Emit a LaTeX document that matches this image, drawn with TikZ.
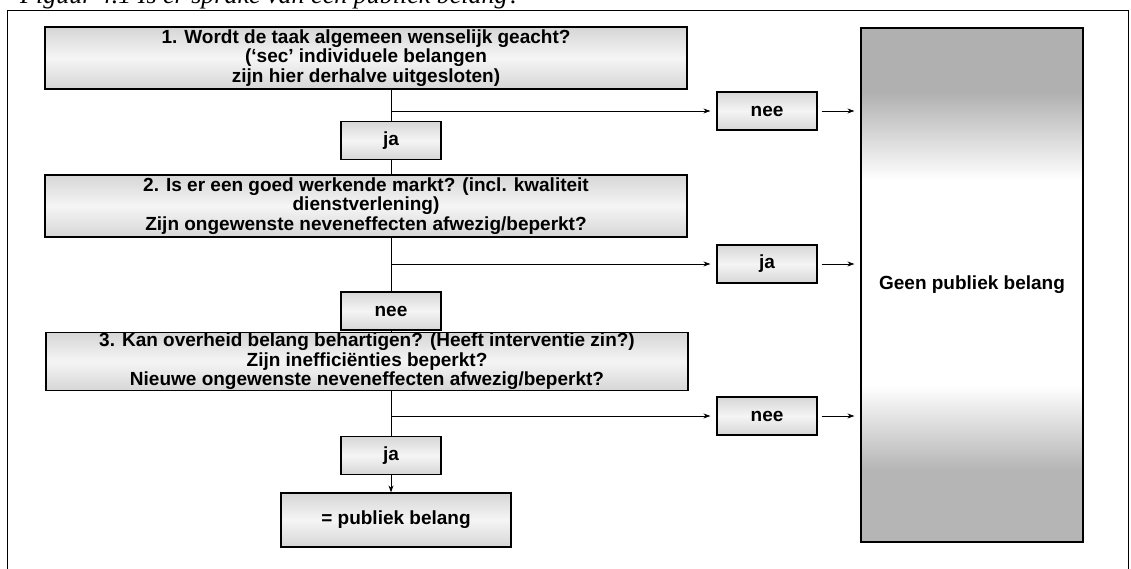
\documentclass[tikz,border=0pt]{standalone}
\usepackage{fontspec}
\setsansfont{Liberation Sans}
\newfontfamily\titelfont{Liberation Serif}
\usetikzlibrary{arrows.meta,positioning,calc}
\tikzset{
  vraag/.style={draw, line width=1.2pt, top color=gray!32, bottom color=gray!32,
    middle color=gray!8, minimum width=642pt, minimum height=62pt, inner sep=0pt,
    align=center, font=\sffamily\bfseries\fontsize{19}{19.5}\selectfont},
  antw/.style={vraag, minimum width=100pt, minimum height=38pt},
  pijl/.style={-{Stealth[length=7pt,width=5pt]}, line width=0.8pt},
  lijn/.style={line width=0.8pt},
}
\begin{document}
\begin{tikzpicture}[x=1pt,y=-1pt]
    \useasboundingbox (0,0) rectangle (1131,569);
    % titel (bovenkant valt weg)
    \node[anchor=base west, inner sep=0pt, font=\titelfont\itshape\fontsize{26}{26}\selectfont]
        (titel) at (20,4) {Figuur 4.1 Is er sprake van een publiek belang?};
    % kader
    \draw[line width=0.8pt] (7,569) -- (7,10) -- (1128,10) -- (1128,569);
    % rechter blok: donker boven en onder, wit in het midden
    \fill[gray!62] (861,28) rectangle (1083,92);
    \shade[top color=gray!62, bottom color=white] (861,92) rectangle (1083,180);
    \shade[top color=white, bottom color=gray!58] (861,385) rectangle (1083,470);
    \fill[gray!58] (861,470) rectangle (1083,542);
    \node[draw, line width=1.2pt, minimum width=222pt, minimum height=514pt, inner sep=0pt,
        font=\sffamily\bfseries\fontsize{19}{19.5}\selectfont] (geen) at (972,285) {Geen publiek belang};
    % vragen
    \node[vraag] (v1) at (366,58) {1. Wordt de taak algemeen wenselijk geacht?\\(‘sec’ individuele belangen\\zijn hier derhalve uitgesloten)};
    \node[vraag] (v2) at (366,206) {2. Is er een goed werkende markt? (incl. kwaliteit\\dienstverlening)\\Zijn ongewenste neveneffecten afwezig/beperkt?};
    \node[vraag, minimum height=58pt] (v3) at (367,361.5) {3. Kan overheid belang behartigen? (Heeft interventie zin?)\\Zijn inefficiënties beperkt?\\Nieuwe ongewenste neveneffecten afwezig/beperkt?};
    % antwoorden
    \node[antw] (ja1) at (391,140.5) {ja};
    \node[antw] (nee2) at (391,311) {nee};
    \node[antw] (ja3) at (391,455.5) {ja};
    \node[antw] (nee1) at (767,111) {nee};
    \node[antw] (ja2) at (767,264) {ja};
    \node[antw] (nee3) at (767,416) {nee};
    \node[vraag, minimum width=230pt, minimum height=54pt] (eind) at (396,520) {= publiek belang};
    % verbindingen
    \draw[lijn] (v1.south -| ja1) -- (ja1.north);
    \draw[lijn] (ja1.south) -- (v2.north -| ja1);
    \draw[lijn] (v2.south -| nee2) -- (nee2.north);
    \draw[lijn] (nee2.south) -- (v3.north -| nee2);
    \draw[lijn] (v3.south -| ja3) -- (ja3.north);
    \draw[pijl] (ja3.south) -- (eind.north -| ja3);
    \draw[pijl, shorten >=6pt] (ja1.north |- nee1.west) -- (nee1.west);
    \draw[pijl, shorten >=6pt] (nee2.north |- ja2.west) -- (ja2.west);
    \draw[pijl, shorten >=6pt] (ja3.north |- nee3.west) -- (nee3.west);
    \draw[pijl, shorten <=4pt, shorten >=6pt] (nee1.east) -- (nee1.east -| geen.west);
    \draw[pijl, shorten <=4pt, shorten >=6pt] (ja2.east) -- (ja2.east -| geen.west);
    \draw[pijl, shorten <=4pt, shorten >=6pt] (nee3.east) -- (nee3.east -| geen.west);
\end{tikzpicture}
\end{document}
